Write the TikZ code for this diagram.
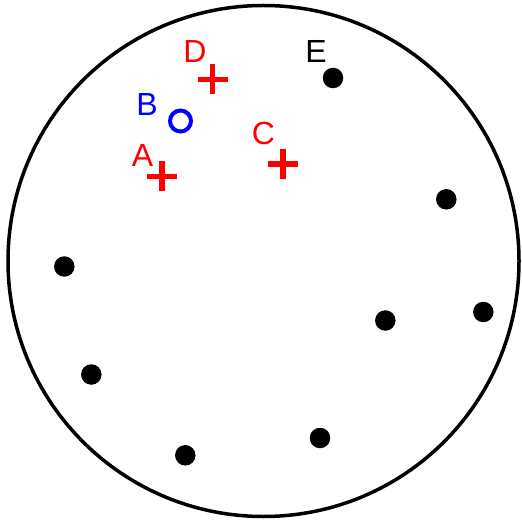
\documentclass[tikz,border=0pt]{standalone}
\usepackage{fontspec}
\setmainfont{Liberation Sans}
\begin{document}
\begin{tikzpicture}[x=1pt,y=-1pt,
  dot/.style={circle,fill=black,draw=none,minimum size=20.5pt,inner sep=0pt},
  lbl/.style={inner sep=0pt,font=\fontsize{32}{32}\selectfont},
  plusline/.style={draw=red,line width=5.5pt},
  ring/.style={circle,draw=blue,line width=4pt,minimum size=21pt,inner sep=0pt}]
\useasboundingbox (0,0) rectangle (522,521);
\node[circle,draw=black,line width=3.5pt,minimum size=511pt,inner sep=0pt] (disk) at (263.5,261) {};
% red crosses
\coordinate (pA) at (162,176.5);
\coordinate (pC) at (283,164);
\coordinate (pD) at (212.5,79.5);
\foreach \p in {pA,pC,pD}{
  \draw[plusline] ([xshift=-15pt]\p) -- ([xshift=15pt]\p);
  \draw[plusline] ([yshift=-15pt]\p) -- ([yshift=15pt]\p);
}
% blue ring
\node[ring] (pB) at (180.5,121) {};
% labels
\node[lbl,text=red] (lA) at (142.5,155) {A};
\node[lbl,text=blue] (lB) at (147,104.5) {B};
\node[lbl,text=red] (lC) at (263.5,133.7) {C};
\node[lbl,text=red] (lD) at (195,51.2) {D};
\node[lbl,text=black] (lE) at (316,51.3) {E};
% black dots
\node[dot] (e) at (333,78) {};
\node[dot] (d1) at (446.3,199.3) {};
\node[dot] (d2) at (483.3,312) {};
\node[dot] (d3) at (385.3,320.5) {};
\node[dot] (d4) at (64.3,266.5) {};
\node[dot] (d5) at (91.3,374.5) {};
\node[dot] (d6) at (185.3,455.3) {};
\node[dot] (d7) at (320,438) {};
\end{tikzpicture}
\end{document}
